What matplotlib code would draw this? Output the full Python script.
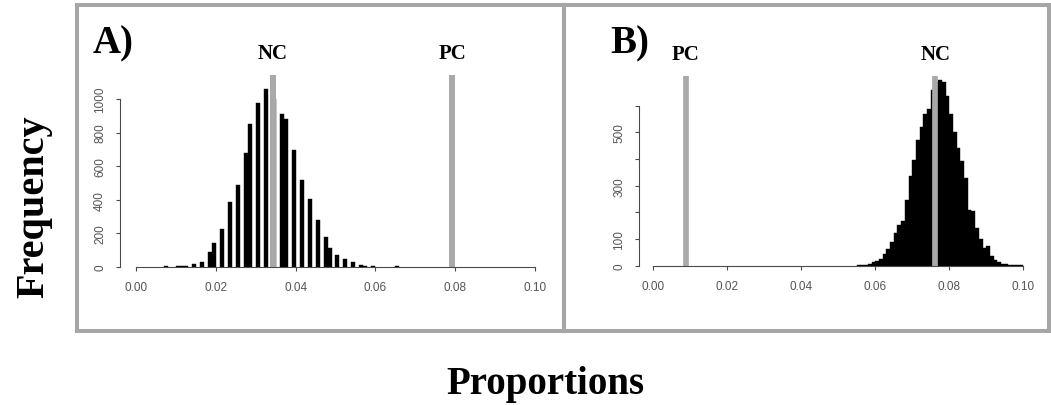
import matplotlib
matplotlib.use("Agg")
import matplotlib.pyplot as plt
from matplotlib.patches import Rectangle

# ---------------- data ----------------
BIN_WIDTH = 0.001

# Panel A: histogram (left bin edges, counts)
a_bin_left = [0.007, 0.010, 0.011, 0.012, 0.014, 0.016, 0.018, 0.019, 0.021, 0.023,
              0.025, 0.027, 0.028, 0.030, 0.032, 0.034, 0.036, 0.037, 0.039, 0.041,
              0.043, 0.045, 0.047, 0.048, 0.050, 0.052, 0.054, 0.056, 0.057, 0.059,
              0.065]
a_counts = [4, 5, 4, 5, 15, 30, 87, 141, 226, 388,
            491, 677, 851, 974, 1061, 1000, 913, 883, 697, 515,
            402, 281, 176, 111, 73, 48, 30, 12, 8, 6,
            4]
a_nc = 0.0343
a_pc = 0.0792

# Panel B: histogram (contiguous bins from 0.055 to 0.100)
b_bin_left = [0.055, 0.056, 0.057, 0.058, 0.059, 0.060, 0.061, 0.062, 0.063, 0.064,
              0.065, 0.066, 0.067, 0.068, 0.069, 0.070, 0.071, 0.072, 0.073, 0.074,
              0.075, 0.076, 0.077, 0.078, 0.079, 0.080, 0.081, 0.082, 0.083, 0.084,
              0.085, 0.086, 0.087, 0.088, 0.089, 0.090, 0.091, 0.092, 0.093, 0.094,
              0.095, 0.096, 0.097, 0.098, 0.099]
b_counts = [2, 3, 4, 8, 13, 18, 25, 44, 64, 88,
            123, 153, 169, 245, 338, 395, 470, 519, 567, 586,
            660, 690, 695, 688, 635, 567, 500, 440, 392, 330,
            210, 205, 140, 100, 66, 75, 36, 20, 13, 8,
            6, 4, 3, 2, 1]
b_pc = 0.0088
b_nc = 0.0762

x_ticks = [0.00, 0.02, 0.04, 0.06, 0.08, 0.10]
x_ticklabels = ["0.00", "0.02", "0.04", "0.06", "0.08", "0.10"]
a_yticks = [0, 200, 400, 600, 800, 1000]
a_yticklabels = ["0", "200", "400", "600", "800", "1000"]
b_yticks = [0, 100, 200, 300, 400, 500, 600]
b_yticklabels = ["0", "100", "", "300", "", "500", ""]

# ---------------- figure ----------------
W, H = 1051, 406
fig = plt.figure(figsize=(W / 100, H / 100), dpi=100)
fig.patch.set_facecolor("white")

SERIF = ["Liberation Serif", "DejaVu Serif"]
SANS = ["Liberation Sans", "DejaVu Sans"]
LINE_GRAY = "#a9a9a9"
FRAME_GRAY = "#a6a6a6"


def px_axes(left, right, top, bottom):
    return [left / W, 1 - bottom / H, (right - left) / W, (bottom - top) / H]


def style_axes(ax, yticks, yticklabels, ytop):
    for s in ["top", "right"]:
        ax.spines[s].set_visible(False)
    for s in ["left", "bottom"]:
        ax.spines[s].set_color("#4a4a4a")
        ax.spines[s].set_linewidth(0.8)
    ax.spines["bottom"].set_bounds(0.0, 0.10)
    ax.spines["left"].set_bounds(0, ytop)
    ax.set_xticks(x_ticks)
    ax.set_xticklabels(x_ticklabels)
    ax.set_yticks(yticks)
    ax.set_yticklabels(yticklabels)
    ax.tick_params(direction="out", length=3, width=0.8, color="#4a4a4a",
                   labelsize=8.5, labelcolor="#555555")
    ax.tick_params(axis="x", pad=7)
    ax.tick_params(axis="y", labelrotation=90, pad=7)
    for lab in ax.get_xticklabels() + ax.get_yticklabels():
        lab.set_family(SANS)
    for lab in ax.get_yticklabels():
        lab.set_va("center")
    ax.set_facecolor("none")


# Panel A axes
axA = fig.add_axes(px_axes(120, 543, 76, 268))
axA.bar(a_bin_left, a_counts, width=BIN_WIDTH, align="edge",
        color="black", edgecolor="black", linewidth=0.3)
axA.set_xlim(-0.004, 0.102)
axA.set_ylim(0, 1143)
axA.axvline(a_nc, color=LINE_GRAY, lw=4.3)
axA.axvline(a_pc, color=LINE_GRAY, lw=4.3)
style_axes(axA, a_yticks, a_yticklabels, 1000)
for xv, lab in [(a_nc, "NC"), (a_pc, "PC")]:
    axA.annotate(lab, xy=(xv, 1), xycoords=("data", "axes fraction"),
                 xytext=(0, 15.5), textcoords="offset points",
                 ha="center", va="center", fontsize=15, fontweight="bold",
                 family=SERIF)

# Panel B axes
axB = fig.add_axes(px_axes(639, 1030.7, 77.3, 266.7))
axB.bar(b_bin_left, b_counts, width=BIN_WIDTH, align="edge",
        color="black", edgecolor="black", linewidth=0.3)
axB.set_xlim(-0.00386, 0.102)
axB.set_ylim(0, 710)
axB.axvline(b_pc, color=LINE_GRAY, lw=4.1)
axB.axvline(b_nc, color=LINE_GRAY, lw=4.1)
style_axes(axB, b_yticks, b_yticklabels, 600)
for xv, lab in [(b_pc, "PC"), (b_nc, "NC")]:
    axB.annotate(lab, xy=(xv, 1), xycoords=("data", "axes fraction"),
                 xytext=(0, 16.4), textcoords="offset points",
                 ha="center", va="center", fontsize=15, fontweight="bold",
                 family=SERIF)

# Panel letters
fig.text(93 / W, 1 - 53 / H, "A)", ha="left", va="baseline",
         fontsize=28, fontweight="bold", family=SERIF)
fig.text(610 / W, 1 - 53 / H, "B)", ha="left", va="baseline",
         fontsize=28, fontweight="bold", family=SERIF)

# Frames
for x0, x1 in [(77, 564), (564, 1049)]:
    fig.add_artist(Rectangle((x0 / W, 1 - 332 / H), (x1 - x0) / W, (332 - 6) / H,
                             transform=fig.transFigure, fill=False,
                             edgecolor=FRAME_GRAY, linewidth=2.9))

# Shared axis titles
fig.text(34 / W, 1 - 207 / H, "Frequency", rotation=90, ha="center", va="center",
         fontsize=29, fontweight="bold", family=SERIF)
fig.text(545 / W, 1 - 394 / H, "Proportions", ha="center", va="baseline",
         fontsize=28, fontweight="bold", family=SERIF)

fig.savefig("out.png", dpi=100)
